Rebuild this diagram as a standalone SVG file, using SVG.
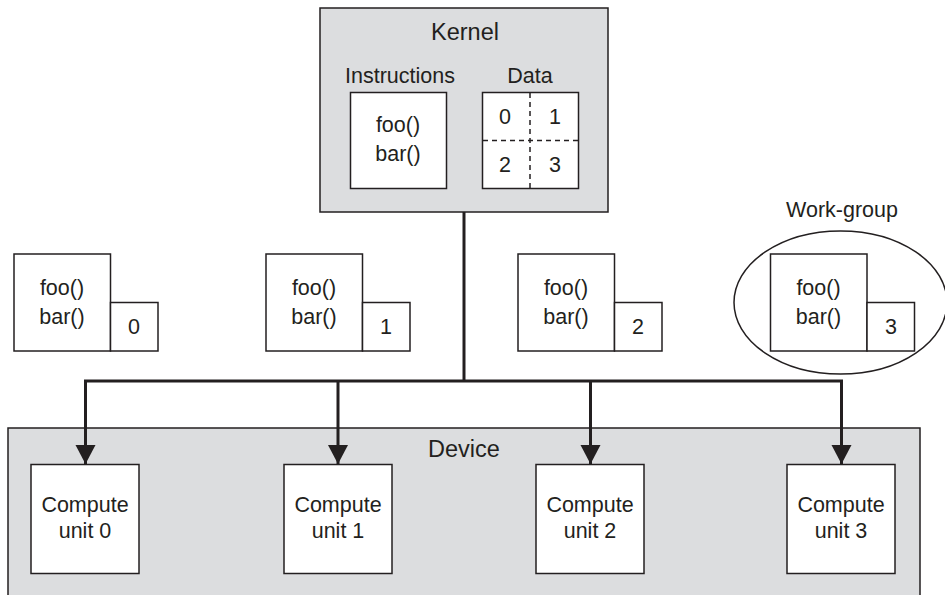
<svg xmlns="http://www.w3.org/2000/svg" width="945" height="595" viewBox="0 0 945 595">
<defs>
<style>
.box{fill:#ffffff;stroke:#231f20;stroke-width:1.5}
.gray{fill:#dcdddf;stroke:#231f20;stroke-width:1.5}
.t{font-family:"Liberation Sans",Arial,sans-serif;font-size:21.5px;fill:#231f20;text-anchor:middle}
.big{font-size:23.5px}
.dash{stroke:#231f20;stroke-width:1.5;stroke-dasharray:5 4;fill:none}
.wire{stroke:#231f20;stroke-width:3;fill:none}
</style>
<marker id="arr" markerUnits="userSpaceOnUse" markerWidth="22" markerHeight="22" viewBox="0 0 22 22" refX="19" refY="11" orient="auto">
<path d="M0,1 L19,11 L0,21 Z" fill="#231f20"/>
</marker>
</defs>
<rect width="945" height="595" fill="#ffffff"/>

<g id="kernel">
<rect class="gray" x="320" y="8" width="288" height="204"/>
<text class="t big" x="465" y="40">Kernel</text>
<text class="t" x="400" y="83">Instructions</text>
<text class="t" x="530" y="83">Data</text>
<rect class="box" x="350.5" y="92.5" width="96" height="96"/>
<text class="t" x="398" y="132">foo()</text>
<text class="t" x="398" y="161">bar()</text>
<rect class="box" x="482.5" y="92.5" width="96" height="96"/>
<line class="dash" x1="530" y1="93" x2="530" y2="188"/>
<line class="dash" x1="483" y1="140.5" x2="578" y2="140.5"/>
<text class="t" x="505" y="124">0</text>
<text class="t" x="555" y="124">1</text>
<text class="t" x="505" y="172">2</text>
<text class="t" x="555" y="172">3</text>
</g>

<g id="wg0">
<rect class="box" x="14" y="254" width="96.5" height="97"/>
<rect class="box" x="110.5" y="302.5" width="47.5" height="48.5"/>
<text class="t" x="62" y="295">foo()</text>
<text class="t" x="62" y="324">bar()</text>
<text class="t" x="134" y="334">0</text>
</g>
<g id="wg1">
<rect class="box" x="266" y="254" width="96.5" height="97"/>
<rect class="box" x="362.5" y="302.5" width="47.5" height="48.5"/>
<text class="t" x="314" y="295">foo()</text>
<text class="t" x="314" y="324">bar()</text>
<text class="t" x="386" y="334">1</text>
</g>
<g id="wg2">
<rect class="box" x="518" y="254" width="96.5" height="97"/>
<rect class="box" x="614.5" y="302.5" width="47.5" height="48.5"/>
<text class="t" x="566" y="295">foo()</text>
<text class="t" x="566" y="324">bar()</text>
<text class="t" x="638" y="334">2</text>
</g>
<g id="wg3">
<ellipse cx="840.5" cy="302.5" rx="106.5" ry="71.5" fill="none" stroke="#231f20" stroke-width="1.5"/>
<text class="t" x="842" y="217">Work-group</text>
<rect class="box" x="770.5" y="254" width="96.5" height="97"/>
<rect class="box" x="867" y="302.5" width="47.5" height="48.5"/>
<text class="t" x="818.5" y="295">foo()</text>
<text class="t" x="818.5" y="324">bar()</text>
<text class="t" x="891" y="334">3</text>
</g>

<g id="device">
<rect class="gray" x="8" y="428" width="912" height="180"/>
<text class="t big" x="464" y="457">Device</text>
</g>
<g id="cu0">
<rect class="box" x="31" y="464.5" width="108" height="109"/>
<text class="t" x="85" y="512">Compute</text>
<text class="t" x="85" y="538">unit 0</text>
</g>
<g id="cu1">
<rect class="box" x="284" y="464.5" width="108" height="109"/>
<text class="t" x="338" y="512">Compute</text>
<text class="t" x="338" y="538">unit 1</text>
</g>
<g id="cu2">
<rect class="box" x="536" y="464.5" width="108" height="109"/>
<text class="t" x="590" y="512">Compute</text>
<text class="t" x="590" y="538">unit 2</text>
</g>
<g id="cu3">
<rect class="box" x="787" y="464.5" width="108" height="109"/>
<text class="t" x="841" y="512">Compute</text>
<text class="t" x="841" y="538">unit 3</text>
</g>

<g id="connectors">
<line class="wire" x1="464" y1="212" x2="464" y2="381"/>
<polyline class="wire" points="85.5,381 841.5,381" stroke-linecap="square"/>
<line class="wire" x1="85.5" y1="381" x2="85.5" y2="464" marker-end="url(#arr)"/>
<line class="wire" x1="338" y1="381" x2="338" y2="464" marker-end="url(#arr)"/>
<line class="wire" x1="590.5" y1="381" x2="590.5" y2="464" marker-end="url(#arr)"/>
<line class="wire" x1="841.5" y1="381" x2="841.5" y2="464" marker-end="url(#arr)"/>
</g>
</svg>
